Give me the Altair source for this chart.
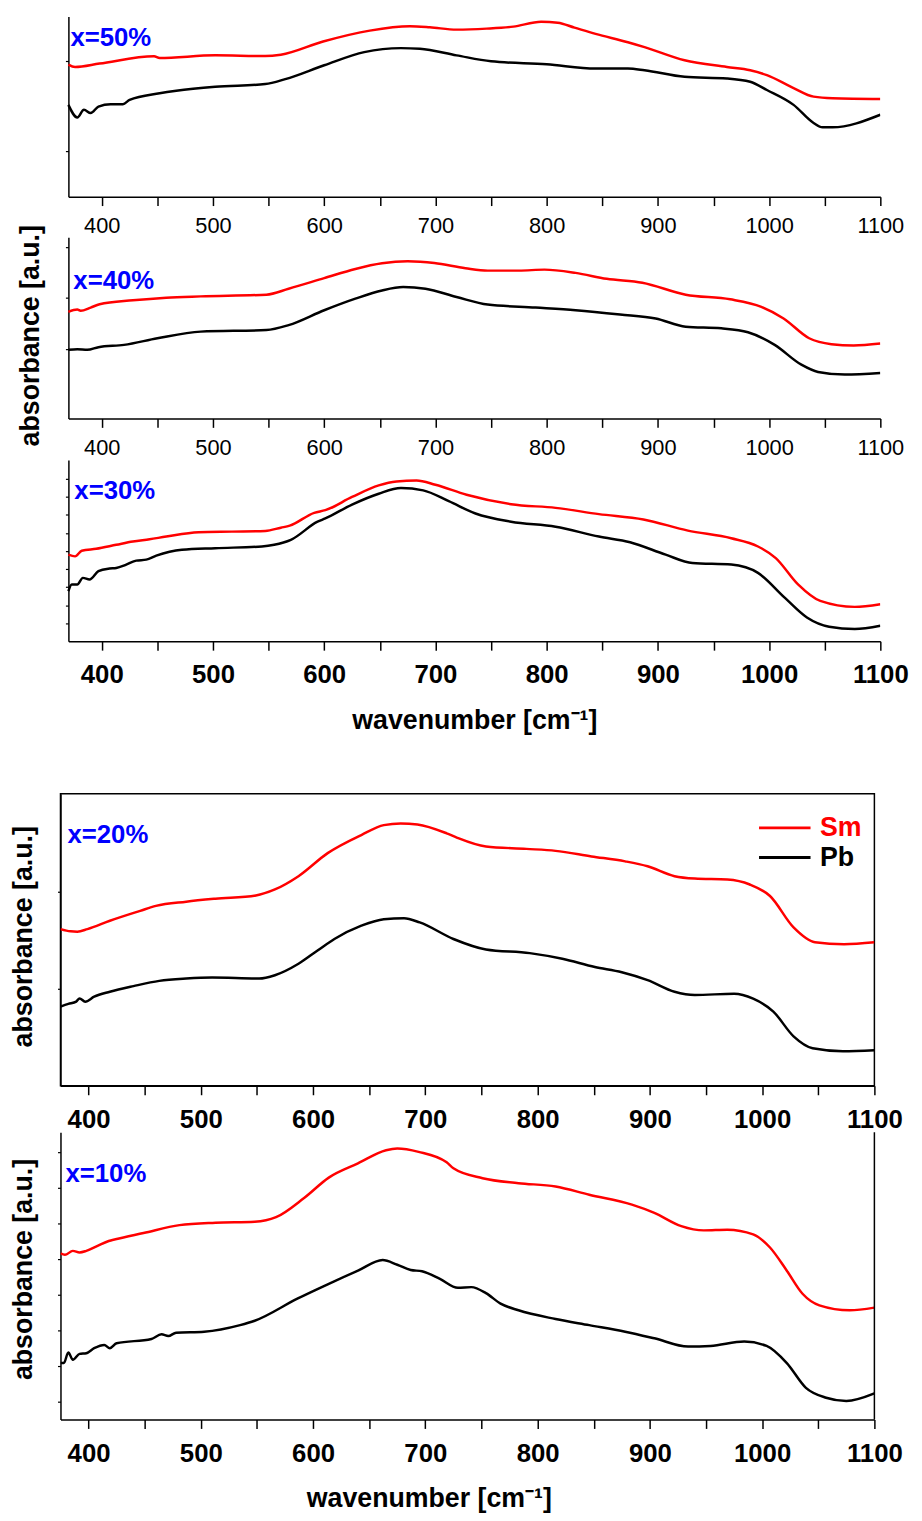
import altair as alt
import pandas as pd

# ---------------- data ----------------
SERIES = ["Sm", "Pb"]
COLORS = ["#ff0000", "#000000"]
X_TICKS = [400, 450, 500, 550, 600, 650, 700, 750, 800, 850, 900, 950, 1000, 1050, 1100]

# x = 50 %
P1_SM_X = [370, 376, 398, 447, 452, 502, 547, 561, 599, 641, 677, 695, 719, 746, 770, 795, 810, 825, 844, 873, 888, 924, 962, 983, 998, 1022, 1040, 1057, 1100]
P1_SM_Y = [133.4, 131.0, 134.4, 141.7, 140.0, 142.7, 142.0, 143.4, 156.7, 167.7, 172.0, 171.0, 168.7, 169.7, 171.7, 176.7, 175.7, 170.7, 164.4, 156.0, 151.0, 137.7, 131.0, 127.7, 122.7, 109.7, 101.0, 99.4, 98.7]
P1_PB_X = [370, 378, 384, 390, 397, 408, 419, 425, 452, 467, 502, 547, 565, 600, 636, 669, 686, 719, 750, 800, 844, 873, 888, 924, 962, 983, 998, 1022, 1040, 1048, 1057, 1100]
P1_PB_Y = [92.7, 80.0, 87.7, 84.4, 91.0, 93.4, 93.4, 97.7, 104.4, 107.0, 111.0, 113.7, 118.7, 132.7, 146.0, 150.0, 149.4, 142.7, 136.7, 133.7, 129.4, 129.4, 127.7, 121.0, 119.4, 116.0, 107.7, 92.7, 74.4, 70.0, 70.0, 82.7]

# x = 40 %
P2_SM_X = [370, 378, 381, 390, 398, 428, 458, 489, 548, 568, 600, 628, 652, 675, 699, 727, 747, 775, 798, 826, 854, 886, 925, 965, 993, 1013, 1036, 1056, 1076, 1100]
P2_SM_Y = [107.7, 110.0, 108.7, 112.0, 115.3, 119.3, 122.0, 123.3, 125.0, 131.0, 141.7, 151.0, 156.7, 158.7, 157.0, 151.7, 149.3, 149.3, 150.3, 147.0, 141.0, 137.0, 125.0, 120.3, 112.7, 101.0, 81.0, 75.0, 73.7, 75.7]
P2_PB_X = [370, 378, 387, 397, 420, 450, 489, 548, 568, 600, 628, 652, 671, 691, 719, 747, 790, 826, 866, 898, 925, 957, 981, 1005, 1029, 1044, 1068, 1100]
P2_PB_Y = [69.3, 70.0, 69.3, 72.0, 74.3, 81.0, 87.7, 89.3, 94.3, 109.3, 121.0, 129.3, 132.7, 131.0, 122.7, 115.0, 112.0, 109.3, 105.0, 101.0, 92.7, 91.0, 87.0, 74.3, 54.3, 47.0, 44.3, 46.0]

# x = 30 %
P3_SM_X = [370, 376, 382, 395, 413, 428, 443, 458, 487, 517, 547, 561, 569, 591, 601, 625, 649, 665, 683, 700, 728, 768, 808, 847, 887, 927, 966, 990, 1006, 1026, 1046, 1077, 1100]
P3_SM_Y = [87.4, 85.7, 91.4, 93.4, 97.4, 100.7, 103.0, 105.7, 110.0, 110.7, 111.4, 114.7, 116.7, 129.7, 132.4, 145.7, 157.4, 161.4, 162.4, 158.0, 148.0, 138.4, 134.7, 128.4, 123.0, 111.7, 104.0, 95.7, 84.0, 57.4, 40.7, 34.7, 37.4]
P3_PB_X = [370, 373, 378, 383, 389, 397, 407, 413, 422, 431, 440, 449, 472, 502, 544, 555, 570, 594, 601, 625, 649, 669, 689, 712, 736, 768, 808, 847, 875, 907, 931, 966, 990, 1014, 1034, 1054, 1077, 1100]
P3_PB_Y = [50.7, 57.4, 57.4, 64.0, 62.4, 70.7, 73.4, 74.0, 77.4, 81.4, 82.4, 86.4, 92.4, 94.0, 95.7, 97.4, 102.4, 120.7, 124.0, 138.0, 149.0, 154.7, 152.4, 141.4, 129.0, 120.7, 115.7, 105.7, 100.0, 87.4, 79.0, 77.4, 69.0, 44.0, 24.0, 14.7, 12.4, 15.7]

# x = 20 %
P4_SM_X = [375, 384, 390, 399, 419, 446, 460, 487, 513, 549, 566, 587, 613, 643, 663, 678, 693, 719, 728, 754, 790, 816, 848, 878, 898, 922, 940, 969, 989, 1007, 1028, 1047, 1073, 1100]
P4_SM_Y = [158.3, 156.0, 155.7, 158.3, 166.7, 176.7, 181.7, 186.0, 189.0, 192.3, 198.3, 211.7, 235.0, 253.3, 263.3, 265.0, 264.0, 255.0, 250.7, 241.7, 239.3, 237.3, 231.7, 226.7, 221.7, 211.7, 209.3, 208.3, 203.3, 191.7, 160.0, 145.0, 143.0, 145.0]
P4_PB_X = [375, 382, 389, 392, 397, 405, 419, 440, 463, 487, 510, 552, 566, 587, 604, 619, 643, 663, 681, 695, 725, 754, 793, 822, 851, 875, 898, 922, 940, 975, 992, 1010, 1028, 1045, 1072, 1100]
P4_PB_Y = [80.0, 82.7, 85.0, 88.3, 85.0, 90.0, 95.0, 100.7, 106.0, 108.3, 109.3, 108.3, 111.7, 123.3, 136.7, 148.3, 161.7, 168.3, 169.3, 165.0, 148.3, 137.7, 134.0, 128.3, 120.0, 114.7, 106.7, 95.0, 91.7, 93.0, 88.0, 75.0, 50.0, 38.0, 35.0, 36.0]

# x = 10 %
P5_SM_X = [375, 379, 386, 392, 398, 408, 418, 424, 449, 481, 513, 548, 567, 592, 614, 640, 665, 675, 694, 719, 725, 751, 783, 816, 846, 884, 904, 928, 948, 969, 992, 1007, 1022, 1036, 1051, 1078, 1100]
P5_SM_Y = [167.7, 166.3, 170.3, 168.7, 170.3, 175.3, 180.3, 182.0, 188.3, 196.3, 198.7, 199.7, 204.3, 223.7, 244.3, 258.7, 272.0, 273.7, 270.3, 259.7, 253.7, 243.7, 238.7, 235.3, 227.0, 217.0, 208.7, 195.3, 191.0, 191.7, 187.0, 173.7, 150.3, 127.0, 115.3, 110.3, 113.0]
P5_PB_X = [375, 378, 382, 386, 392, 398, 405, 414, 419, 425, 456, 465, 471, 478, 503, 535, 548, 586, 614, 640, 662, 675, 687, 697, 713, 729, 741, 754, 767, 783, 816, 846, 878, 904, 934, 954, 984, 1004, 1022, 1039, 1057, 1075, 1100]
P5_PB_Y = [57.0, 57.0, 67.7, 60.3, 66.3, 67.0, 72.0, 75.3, 72.0, 77.0, 81.3, 86.0, 84.3, 87.7, 88.7, 95.3, 99.7, 122.0, 137.0, 150.3, 161.0, 156.3, 151.0, 149.7, 142.0, 133.0, 133.7, 127.7, 117.0, 110.3, 101.5, 95.3, 88.7, 82.0, 73.7, 74.3, 78.7, 74.3, 57.0, 32.0, 22.0, 18.7, 26.3]

P1_YTICKS = [46, 137]
P2_YTICKS = [70, 122, 173]
P3_YTICKS = [18, 36, 55, 73, 91, 109, 128, 146, 164]
P4_YTICKS = [98, 196]
P5_YTICKS = [18, 36, 54, 72, 90, 108, 126, 144, 162, 180, 198, 216, 234, 252, 270]

FONT = "Liberation Sans"
BLUE = "#0000ff"


def frame(sm_x, sm_y, pb_x, pb_y):
    assert len(sm_x) == len(sm_y) and len(pb_x) == len(pb_y)
    return pd.DataFrame({
        "wavenumber": list(sm_x) + list(pb_x),
        "absorbance": list(sm_y) + list(pb_y),
        "sample": ["Sm"] * len(sm_x) + ["Pb"] * len(pb_x),
    })


def panel(df, label, width, height, x_domain, y_ticks, bold, label_dx, label_dy,
          x_range=None, x_title=None, x_title_x=None, y_title=None, y_title_x=None,
          y_title_y=None, y_offset=0, legend=False, box=False, right_edge=False):
    xaxis = dict(values=X_TICKS, format="d",
                 labelExpr="datum.value % 100 === 0 ? datum.label : ''",
                 tickSize=9, tickWidth=1.5, domainWidth=1.5, domainColor="black",
                 tickColor="black", labelColor="black", labelFont=FONT,
                 labelFontSize=26 if bold else 22,
                 labelFontWeight="bold" if bold else "normal",
                 labelPadding=12 if bold else 10, grid=False,
                 labelFlush=False, labelOverlap=False)
    if x_title:
        xaxis.update(titleFont=FONT, titleFontSize=27, titleFontWeight="bold",
                     titleColor="black", titlePadding=20)
        if x_title_x is not None:
            xaxis.update(titleX=x_title_x, titleAlign="center")
    xscale = dict(domain=x_domain, nice=False, zero=False)
    if x_range:
        xscale["range"] = x_range

    yaxis = dict(values=y_ticks, labels=False, tickSize=3, tickWidth=1.2,
                 domainWidth=1.5, domainColor="black", tickColor="black",
                 grid=False, offset=y_offset)
    if y_title:
        yaxis.update(titleFont=FONT, titleFontSize=27, titleFontWeight="bold",
                     titleColor="black", titleX=y_title_x, titleY=y_title_y,
                     titleBaseline="middle", titleAlign="center")

    if legend:
        leg = alt.Legend(orient="none", legendX=718, legendY=21, title=None,
                         symbolType="M-2.6,0H2.6", symbolSize=400, symbolStrokeWidth=3,
                         labelFont=FONT, labelFontSize=27, labelFontWeight="bold",
                         labelColor={"expr": "datum.label === 'Sm' ? '#ff0000' : '#000000'"},
                         labelOffset=22, rowPadding=2, padding=0)
    else:
        leg = None

    lines = alt.Chart(df).mark_line(strokeWidth=2.5, interpolate="monotone", clip=True).encode(
        x=alt.X("wavenumber:Q", scale=alt.Scale(**xscale), axis=alt.Axis(**xaxis),
                title=x_title),
        y=alt.Y("absorbance:Q", scale=alt.Scale(domain=[0, height], nice=False, zero=False),
                axis=alt.Axis(**yaxis), title=y_title),
        color=alt.Color("sample:N", scale=alt.Scale(domain=SERIES, range=COLORS), legend=leg),
    )
    tag = alt.Chart(pd.DataFrame({"label": [label]})).mark_text(
        align="left", baseline="alphabetic", color=BLUE, font=FONT, fontSize=26,
        fontWeight="bold").encode(text="label:N", x=alt.value(label_dx), y=alt.value(label_dy))
    layers = [lines, tag]
    if right_edge:
        edge = alt.Chart(pd.DataFrame({"edge": [x_domain[1]]})).mark_rule(
            color="black", strokeWidth=1.5).encode(
            x=alt.datum(x_domain[1]), y=alt.datum(0), y2=alt.datum(height))
        layers.append(edge)

    props = dict(width=width, height=height)
    if box:
        props["view"] = alt.ViewBackground(stroke="black", strokeWidth=1.5)
    return alt.layer(*layers).properties(**props)


def gap(h):
    return alt.Chart(pd.DataFrame({"s": [0]})).mark_point(opacity=0).encode(
        x=alt.X("s:Q", axis=None), y=alt.Y("s:Q", axis=None)).properties(width=10, height=h)


TOP_DOMAIN = [370, 1100]
BOT_DOMAIN = [375, 1100]

p1 = panel(frame(P1_SM_X, P1_SM_Y, P1_PB_X, P1_PB_Y), "x=50%", 828, 182, TOP_DOMAIN,
           P1_YTICKS, False, 10, 30, x_range=[8, 828], y_offset=-8)
p2 = panel(frame(P2_SM_X, P2_SM_Y, P2_PB_X, P2_PB_Y), "x=40%", 828, 183, TOP_DOMAIN,
           P2_YTICKS, False, 13, 52, x_range=[8, 828], y_offset=-8,
           y_title="absorbance [a.u.]", y_title_x=-38, y_title_y=99)
p3 = panel(frame(P3_SM_X, P3_SM_Y, P3_PB_X, P3_PB_Y), "x=30%", 828, 183, TOP_DOMAIN,
           P3_YTICKS, True, 14, 39, x_range=[8, 828], y_offset=-8,
           x_title="wavenumber [cm⁻¹]")
p4 = panel(frame(P4_SM_X, P4_SM_Y, P4_PB_X, P4_PB_Y), "x=20%", 822, 295, BOT_DOMAIN,
           P4_YTICKS, True, 7, 50, y_title="absorbance [a.u.]", y_title_x=-37,
           y_title_y=144, legend=True, box=True)
p5 = panel(frame(P5_SM_X, P5_SM_Y, P5_PB_X, P5_PB_Y), "x=10%", 822, 290, BOT_DOMAIN,
           P5_YTICKS, True, 5, 50, y_title="absorbance [a.u.]", y_title_x=-37,
           y_title_y=138, x_title="wavenumber [cm⁻¹]", x_title_x=372, right_edge=True)

chart = alt.vconcat(p1, gap(41), p2, gap(42), p3, gap(154), p4, gap(47), p5,
                    spacing=0, bounds="flush").resolve_scale(
    x="independent", y="independent", color="independent"
).resolve_legend(color="independent").properties(
    padding={"left": 1, "top": 1, "right": 5, "bottom": 5}
).configure(font=FONT).configure_view(stroke=None)

chart.save("out.html", embed_options={"renderer": "svg", "actions": False})
